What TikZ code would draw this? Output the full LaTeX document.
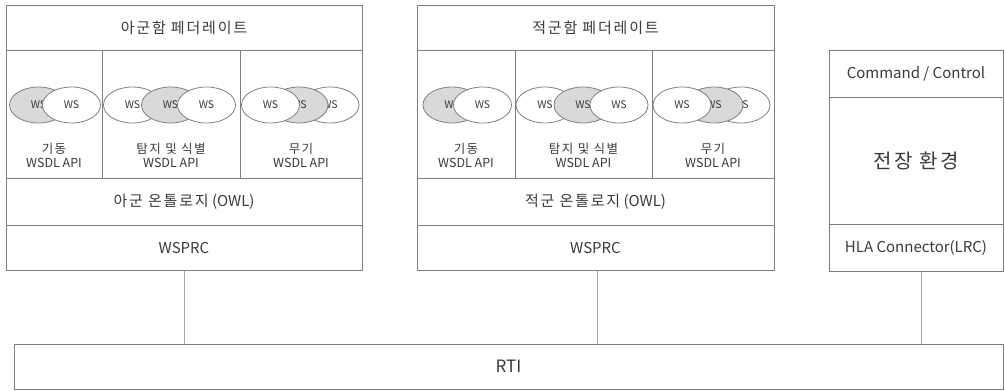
\documentclass[tikz,border=0pt]{standalone}
\usepackage{fontspec}
\setmainfont{Noto Sans CJK KR}
\newfontfamily\widefont[LetterSpace=12]{Noto Sans CJK KR}
\usetikzlibrary{shapes.geometric}
\definecolor{boxline}{HTML}{7F7F7F}
\definecolor{wsfill}{HTML}{D9D9D9}
\definecolor{linkline}{HTML}{A6A6A6}
\definecolor{labeltext}{HTML}{3A3A3A}
\newcommand\headfont{\widefont\fontsize{15}{17}\selectfont}
\newcommand\cellfont{\fontsize{15}{17}\selectfont}
\newcommand\apifont{\fontsize{12.5}{14}\selectfont}
\newcommand\apiname[1]{{\widefont\fontsize{12.5}{14}\selectfont #1}}

\begin{document}
\begin{tikzpicture}[x=1pt,y=-1pt,
  cell/.style={draw=boxline,line width=1pt,rectangle,inner sep=0pt,text=labeltext,font=\cellfont},
  ws/.style={draw=boxline,line width=0.8pt,ellipse,fill=white,minimum width=58pt,minimum height=36pt,inner sep=0pt,text=labeltext,font=\fontsize{10.5}{12}\selectfont},
  wsg/.style={ws,fill=wsfill},
  api/.style={align=center,text=labeltext,font=\apifont},
  link/.style={draw=linkline,line width=1pt}]
  \useasboundingbox (0,0) rectangle (1005,391);

  % 아군 federate
  \node[cell,minimum width=356pt,minimum height=45pt,font=\headfont] (ahead) at (184,27.5) {아군함 페더레이트};
  \node[cell,minimum width=96pt,minimum height=128pt] (amove) at (54,114) {};
  \node[cell,minimum width=138pt,minimum height=128pt] (adetect) at (171,114) {};
  \node[cell,minimum width=122pt,minimum height=128pt] (aweapon) at (301,114) {};
  \node[cell,minimum width=356pt,minimum height=47pt] (aowl) at (184,201.5) {{\widefont 아군 온톨로지} (OWL)};
  \node[cell,minimum width=356pt,minimum height=45pt] (awsprc) at (184,247.5) {WSPRC};
  \node[wsg] (amove1) at (38.5,105) {WS};
  \node[ws] (amove2) at (71.5,105) {WS};
  \node[ws] (adetect1) at (132.5,105) {WS};
  \node[wsg] (adetect2) at (170.5,105) {WS};
  \node[ws] (adetect3) at (206.5,105) {WS};
  \node[ws] (aweapon3) at (330,105) {WS};
  \node[wsg] (aweapon2) at (299,105) {WS};
  \node[ws] (aweapon1) at (270.5,105) {WS};
  \node[api] (amovetxt) at (54,155) {\apiname{기동}\\WSDL API};
  \node[api] (adetecttxt) at (171,155) {\apiname{탐지 및 식별}\\WSDL API};
  \node[api] (aweapontxt) at (301,155) {\apiname{무기}\\WSDL API};

  % 적군 federate
  \node[cell,minimum width=357pt,minimum height=45pt,font=\headfont] (ehead) at (595.5,27.5) {적군함 페더레이트};
  \node[cell,minimum width=98pt,minimum height=128pt] (emove) at (466,114) {};
  \node[cell,minimum width=137pt,minimum height=128pt] (edetect) at (583.5,114) {};
  \node[cell,minimum width=122pt,minimum height=128pt] (eweapon) at (713,114) {};
  \node[cell,minimum width=357pt,minimum height=47pt] (eowl) at (595.5,201.5) {{\widefont 적군 온톨로지} (OWL)};
  \node[cell,minimum width=357pt,minimum height=45pt] (ewsprc) at (595.5,247.5) {WSPRC};
  \node[wsg] (emove1) at (452,105) {WS};
  \node[ws] (emove2) at (482.5,105) {WS};
  \node[ws] (edetect1) at (545,105) {WS};
  \node[wsg] (edetect2) at (583,105) {WS};
  \node[ws] (edetect3) at (619,105) {WS};
  \node[ws] (eweapon3) at (741,105) {WS};
  \node[wsg] (eweapon2) at (714,105) {WS};
  \node[ws] (eweapon1) at (682,105) {WS};
  \node[api] (emovetxt) at (466,155) {\apiname{기동}\\WSDL API};
  \node[api] (edetecttxt) at (583.5,155) {\apiname{탐지 및 식별}\\WSDL API};
  \node[api] (eweapontxt) at (713,155) {\apiname{무기}\\WSDL API};

  % 전장 환경
  \node[cell,minimum width=174pt,minimum height=47pt] (cmd) at (916,73.5) {Command / Control};
  \node[cell,minimum width=174pt,minimum height=127pt,font=\widefont\fontsize{20}{22}\selectfont] (env) at (916,160.5) {전장 환경};
  \node[cell,minimum width=174pt,minimum height=47pt] (hla) at (916,247.5) {HLA Connector(LRC)};

  \node[cell,minimum width=989pt,minimum height=45pt,font=\fontsize{17}{19}\selectfont] (rti) at (508.5,366.5) {RTI};

  \draw[link] (awsprc.south) -- (awsprc.south |- rti.north);
  \draw[link] ([xshift=1.5pt]ewsprc.south) -- ([xshift=1.5pt]ewsprc.south |- rti.north);
  \draw[link] ([xshift=5pt]hla.south) -- ([xshift=5pt]hla.south |- rti.north);
\end{tikzpicture}
\end{document}
